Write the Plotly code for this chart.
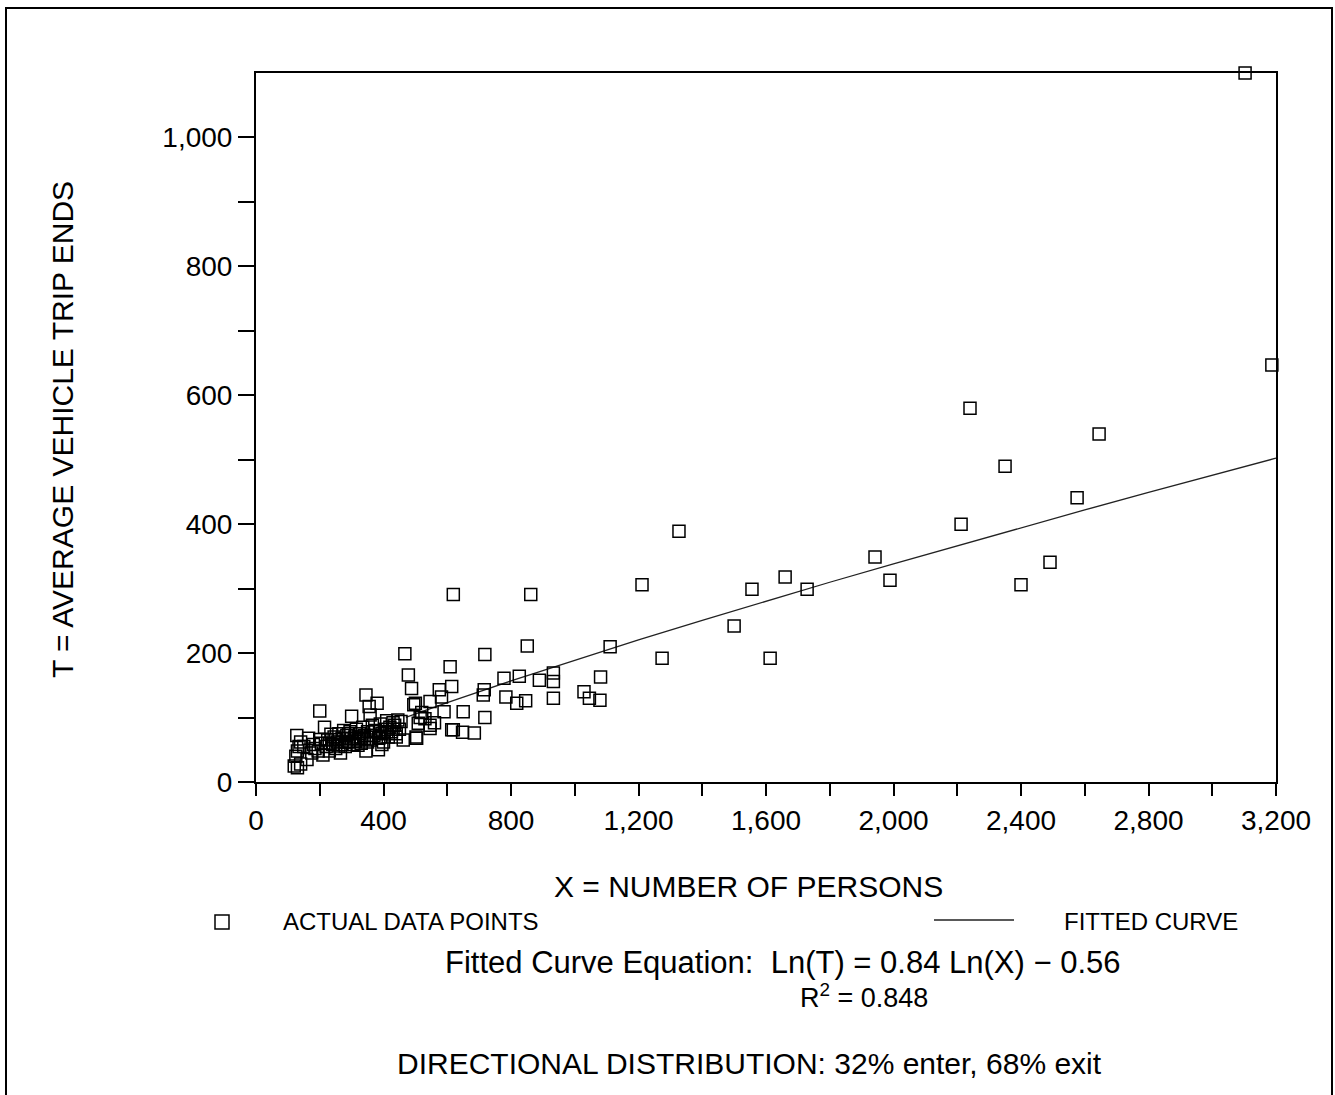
import math
import plotly.graph_objects as go

# ---- data ----
persons = [120, 130, 140, 125, 130, 135, 128, 140, 160, 165, 175, 185, 195, 200, 205, 210, 215, 220,
           225, 230, 240, 245, 250, 255, 260, 265, 270, 275, 280, 285, 290, 295, 300, 305, 310, 315,
           320, 325, 330, 335, 340, 345, 345, 350, 355, 358, 360, 365, 370, 375, 380, 384, 385, 390,
           395, 400, 405, 410, 415, 420, 425, 430, 435, 440, 445, 450, 455, 462, 467, 478, 488, 495,
           500, 502, 504, 509, 515, 520, 530, 546, 546, 546, 560, 575, 582, 590, 609, 614, 614, 619,
           619, 648, 650, 685, 713, 716, 718, 718, 778, 784, 818, 826, 846, 851, 862, 889, 933, 933,
           933, 1029, 1046, 1079, 1081, 1111, 1211, 1274, 1327, 1500, 1556, 1613, 1660, 1729, 1942,
           1989, 2212, 2240, 2350, 2400, 2491, 2576, 2645, 3103, 3187,
           230, 250, 270, 290, 310, 330, 350, 370, 390, 410, 430, 260, 280, 300, 320, 340, 360, 150,
           180, 200, 235, 395, 440]
trip_ends = [25, 22, 28, 40, 48, 55, 72, 62, 35, 68, 45, 52, 48, 110, 60, 42, 85, 55,
             65, 48, 58, 70, 52, 62, 75, 45, 68, 80, 55, 72, 62, 78, 102, 58, 70, 82,
             65, 75, 60, 85, 72, 135, 48, 78, 117, 104, 65, 88, 72, 80, 122, 50, 68, 90,
             75, 62, 82, 95, 70, 85, 78, 92, 88, 75, 96, 82, 94, 65, 199, 166, 145, 120,
             122, 70, 68, 91, 100, 108, 98, 125, 88, 83, 92, 143, 132, 109, 179, 148, 81, 291,
             81, 77, 109, 76, 135, 143, 198, 100, 161, 132, 122, 164, 126, 211, 291, 158, 169, 156,
             130, 140, 130, 127, 163, 210, 306, 192, 389, 242, 299, 192, 318, 299, 349,
             313, 400, 580, 490, 306, 341, 441, 540, 1100, 647,
             60, 66, 58, 75, 63, 70, 62, 78, 70, 78, 82, 56, 62, 67, 57, 68, 72, 55,
             58, 66, 74, 58, 70]

# fitted curve: Ln(T) = 0.84 Ln(X) - 0.56
fit_slope = 0.84
fit_intercept = -0.56
fit_x = [470, 600, 800, 1000, 1200, 1400, 1600, 1800, 2000, 2200, 2400, 2600, 2800, 3000, 3200]
fit_t = [math.exp(fit_intercept + fit_slope * math.log(v)) for v in fit_x]

x_major_ticks = [0, 400, 800, 1200, 1600, 2000, 2400, 2800, 3200]
x_tick_labels = ["0", "400", "800", "1,200", "1,600", "2,000", "2,400", "2,800", "3,200"]
x_minor_ticks = [200, 600, 1000, 1400, 1800, 2200, 2600, 3000]
y_major_ticks = [0, 200, 400, 600, 800, 1000]
y_tick_labels = ["0", "200", "400", "600", "800", "1,000"]
y_minor_ticks = [100, 300, 500, 700, 900]

FONT = "Liberation Sans, Arial, Helvetica, sans-serif"

fig = go.Figure()
fig.add_trace(go.Scatter(
    x=fit_x, y=fit_t, mode="lines",
    line=dict(color="#222222", width=1.3),
    hoverinfo="skip", showlegend=False,
))
fig.add_trace(go.Scatter(
    x=persons, y=trip_ends, mode="markers", cliponaxis=False,
    marker=dict(symbol="square-open", size=12, color="black", line=dict(width=1.5, color="black")),
    showlegend=False,
))

L, T, W, H = 256, 73, 1020, 709


def px(xp):
    return (xp - L) / W


def py(yp):
    return (T + H - yp) / H


fig.update_layout(
    width=1335, height=1095,
    margin=dict(l=L, r=1335 - L - W, t=T, b=1095 - T - H),
    paper_bgcolor="white", plot_bgcolor="white",
    font=dict(family=FONT, color="black"),
    xaxis=dict(
        range=[0, 3200], tickvals=x_major_ticks, ticktext=x_tick_labels,
        ticks="outside", ticklen=12, tickwidth=2, tickcolor="black",
        minor=dict(tickvals=x_minor_ticks, ticks="outside", ticklen=12, tickwidth=2,
                   tickcolor="black", showgrid=False),
        showline=True, linecolor="black", linewidth=2, mirror=True,
        showgrid=False, zeroline=False,
        tickfont=dict(size=28, family=FONT, color="black"),
    ),
    yaxis=dict(
        range=[0, 1100], tickvals=y_major_ticks, ticktext=y_tick_labels,
        ticks="outside", ticklen=16, tickwidth=2, tickcolor="black",
        minor=dict(tickvals=y_minor_ticks, ticks="outside", ticklen=16, tickwidth=2,
                   tickcolor="black", showgrid=False),
        showline=True, linecolor="black", linewidth=2, mirror=True,
        showgrid=False, zeroline=False,
        tickfont=dict(size=28, family=FONT, color="black"),
    ),
)

ann = [
    dict(text="T = AVERAGE VEHICLE TRIP ENDS", x=px(62), y=py(430), textangle=-90,
         font=dict(size=30), xanchor="center", yanchor="middle"),
    dict(text="X = NUMBER OF PERSONS", x=px(748), y=py(886),
         font=dict(size=30), xanchor="center", yanchor="middle"),
    dict(text="ACTUAL DATA POINTS", x=px(281), y=py(922),
         font=dict(size=24), xanchor="left", yanchor="middle"),
    dict(text="FITTED CURVE", x=px(1062), y=py(922),
         font=dict(size=24), xanchor="left", yanchor="middle"),
    dict(text="Fitted Curve Equation:\u00a0 Ln(T) = 0.84 Ln(X) \u2212 0.56", x=px(782), y=py(962),
         font=dict(size=31), xanchor="center", yanchor="middle"),
    dict(text="R<sup>2</sup> = 0.848", x=px(864), y=py(996),
         font=dict(size=27), xanchor="center", yanchor="middle"),
    dict(text="DIRECTIONAL DISTRIBUTION: 32% enter, 68% exit", x=px(749), y=py(1063),
         font=dict(size=30), xanchor="center", yanchor="middle"),
]
for a in ann:
    a.update(xref="paper", yref="paper", showarrow=False)
    a["font"].update(family=FONT, color="black")
fig.update_layout(annotations=ann)

shapes = [
    # legend square
    dict(type="rect", xref="paper", yref="paper", x0=px(215), x1=px(229), y0=py(929), y1=py(915),
         line=dict(color="black", width=1.5)),
    # legend line
    dict(type="line", xref="paper", yref="paper", x0=px(934), x1=px(1014), y0=py(920), y1=py(920),
         line=dict(color="#222222", width=1.3)),
    # outer frame
    dict(type="rect", xref="paper", yref="paper", x0=px(6), x1=px(1332), y0=py(1120), y1=py(8),
         line=dict(color="black", width=2)),
]
fig.update_layout(shapes=shapes)

fig.write_html("out.html")
